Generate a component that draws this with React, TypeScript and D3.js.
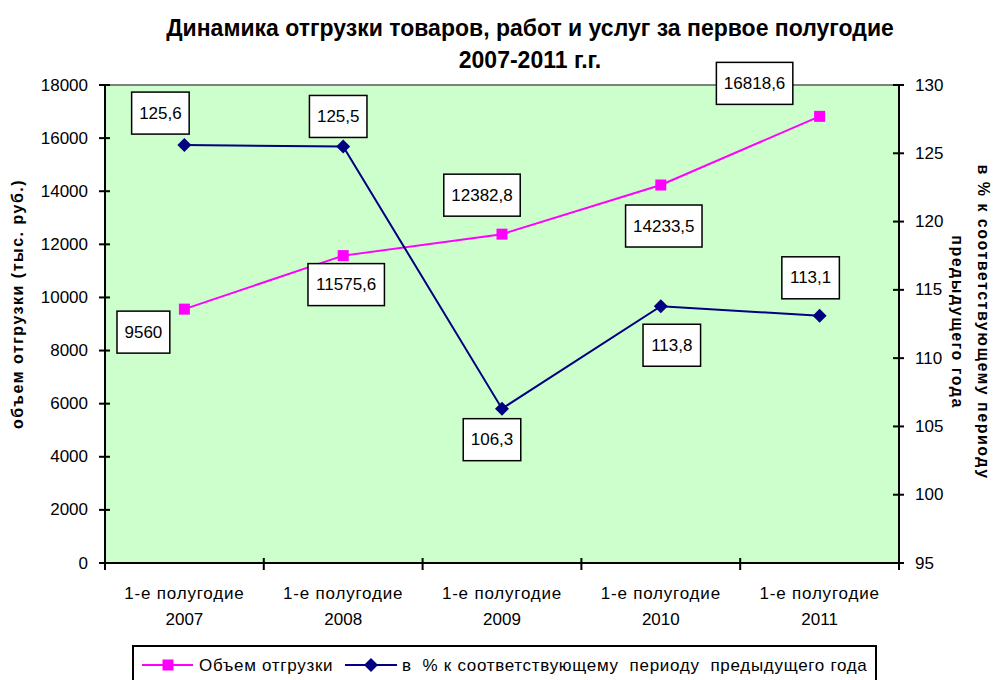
import React from "react";
import * as d3 from "d3";

const periods = ["2007", "2008", "2009", "2010", "2011"];
const volume = [9560, 11575.6, 12382.8, 14233.5, 16818.6];
const percent = [125.6, 125.5, 106.3, 113.8, 113.1];
const leftTicks = [0, 2000, 4000, 6000, 8000, 10000, 12000, 14000, 16000, 18000];
const rightTicks = [95, 100, 105, 110, 115, 120, 125, 130];

// label box offsets from the marker, as placed in the original chart
const volumeLabelShift = [[-41, 23], [3, 29], [-20, -39], [3, 41], [-65, -33]];
const percentLabelShift = [[-24, -32], [-5, -30], [-10, 31], [11, 39], [-9, -38]];

const W = 993;
const H = 680;
const plot = { left: 105, right: 899, top: 85, bottom: 563 };
const font = "'Liberation Sans', Arial, sans-serif";
const fs = 17;

const fmt = (v: number) => String(v).replace(".", ",");
// rough Arial width for digit strings
const textWidth = (s: string) =>
  s.split("").reduce((a, c) => a + (c === "," ? 0.278 : 0.556), 0) * fs;

function Label({ x, y, text }: { x: number; y: number; text: string }) {
  const w = textWidth(text) + 15;
  const h = 42;
  return (
    <g>
      <rect x={x - w / 2} y={y - h / 2} width={w} height={h} fill="#fff" stroke="#000" strokeWidth={1.5} />
      <text x={x} y={y} textAnchor="middle" dominantBaseline="central" fontSize={fs}>
        {text}
      </text>
    </g>
  );
}

export default function App() {
  const x = d3.scaleBand().domain(periods).range([plot.left, plot.right]);
  const yL = d3.scaleLinear().domain([0, 18000]).range([plot.bottom, plot.top]);
  const yR = d3.scaleLinear().domain([95, 130]).range([plot.bottom, plot.top]);
  const cx = (p: string) => (x(p) as number) + x.bandwidth() / 2;

  const volLine = d3.line<number>().x((_, i) => cx(periods[i])).y((d) => yL(d));
  const pctLine = d3.line<number>().x((_, i) => cx(periods[i])).y((d) => yR(d));

  const sq = 11;
  const diamond = (px: number, py: number, r = 7) =>
    `M${px},${py - r}L${px + r},${py}L${px},${py + r}L${px - r},${py}Z`;

  return (
    <svg width={W} height={H} style={{ position: "absolute", left: 0, top: 0, fontFamily: font }}>
      <rect width={W} height={H} fill="#fff" />
      <text x={530} y={36} textAnchor="middle" fontSize={23} fontWeight="bold">
        Динамика отгрузки товаров, работ  и услуг за первое полугодие
      </text>
      <text x={530} y={68} textAnchor="middle" fontSize={23} fontWeight="bold">
        2007-2011 г.г.
      </text>

      <rect x={plot.left} y={plot.top} width={plot.right - plot.left} height={plot.bottom - plot.top} fill="#ccffcc" />
      <line x1={plot.left} x2={plot.right} y1={plot.top} y2={plot.top} stroke="#808080" strokeWidth={2} />

      {/* left axis */}
      <line x1={plot.left} x2={plot.left} y1={plot.top} y2={plot.bottom} stroke="#000" strokeWidth={2} />
      {leftTicks.map((t) => (
        <g key={t}>
          <line x1={plot.left - 6} x2={plot.left + 5} y1={yL(t)} y2={yL(t)} stroke="#000" strokeWidth={2} />
          <text x={88} y={yL(t)} textAnchor="end" dominantBaseline="central" fontSize={fs}>
            {t}
          </text>
        </g>
      ))}
      <text
        transform={`translate(23,${(plot.top + plot.bottom) / 2 - 20}) rotate(-90)`}
        textAnchor="middle"
        fontSize={16}
        fontWeight="bold"
        letterSpacing={1.5}
      >
        объем отгрузки (тыс. руб.)
      </text>

      {/* right axis */}
      <line x1={plot.right} x2={plot.right} y1={plot.top} y2={plot.bottom} stroke="#000" strokeWidth={2} />
      {rightTicks.map((t) => (
        <g key={t}>
          <line x1={plot.right - 6} x2={plot.right + 5} y1={yR(t)} y2={yR(t)} stroke="#000" strokeWidth={2} />
          <text x={915} y={yR(t)} dominantBaseline="central" fontSize={fs}>
            {t}
          </text>
        </g>
      ))}
      <g
        transform={`translate(978,322) rotate(90)`}
        fontSize={16}
        fontWeight="bold"
        textAnchor="middle"
        letterSpacing={1.5}
      >
        <text x={0} y={0}>в % к соответствующему периоду</text>
        <text x={0} y={26}>предыдущего года</text>
      </g>

      {/* category axis */}
      <line x1={plot.left} x2={plot.right} y1={plot.bottom} y2={plot.bottom} stroke="#000" strokeWidth={2} />
      {periods.map((p, i) => (
        <g key={p}>
          <line x1={x(p) as number} x2={x(p) as number} y1={plot.bottom - 5} y2={plot.bottom + 7} stroke="#000" strokeWidth={2} />
          {i === periods.length - 1 && (
            <line x1={plot.right} x2={plot.right} y1={plot.bottom} y2={plot.bottom + 7} stroke="#000" strokeWidth={2} />
          )}
          <text x={cx(p)} y={599} textAnchor="middle" fontSize={17} letterSpacing={0.8}>
            1-е полугодие
          </text>
          <text x={cx(p)} y={625} textAnchor="middle" fontSize={17}>
            {p}
          </text>
        </g>
      ))}

      {/* series */}
      <path d={volLine(volume) || ""} fill="none" stroke="#ff00ff" strokeWidth={2} />
      <path d={pctLine(percent) || ""} fill="none" stroke="#000080" strokeWidth={2} />
      {volume.map((v, i) => (
        <rect key={"v" + i} x={cx(periods[i]) - sq / 2} y={yL(v) - sq / 2} width={sq} height={sq} fill="#ff00ff" />
      ))}
      {percent.map((v, i) => (
        <path key={"p" + i} d={diamond(cx(periods[i]), yR(v))} fill="#000080" />
      ))}

      {/* data labels */}
      {volume.map((v, i) => (
        <Label
          key={"lv" + i}
          x={cx(periods[i]) + volumeLabelShift[i][0]}
          y={yL(v) + volumeLabelShift[i][1]}
          text={fmt(v)}
        />
      ))}
      {percent.map((v, i) => (
        <Label
          key={"lp" + i}
          x={cx(periods[i]) + percentLabelShift[i][0]}
          y={yR(v) + percentLabelShift[i][1]}
          text={fmt(v)}
        />
      ))}

      {/* legend */}
      <rect x={133} y={646} width={743} height={50} fill="#fff" stroke="#000" strokeWidth={2} />
      <line x1={142} x2={193} y1={665} y2={665} stroke="#ff00ff" strokeWidth={2} />
      <rect x={168 - sq / 2} y={665 - sq / 2} width={sq} height={sq} fill="#ff00ff" />
      <text x={199} y={665} dominantBaseline="central" fontSize={fs} letterSpacing={0.7}>
        Объем отгрузки
      </text>
      <line x1={345} x2={397} y1={665} y2={665} stroke="#000080" strokeWidth={2} />
      <path d={diamond(371, 665)} fill="#000080" />
      <text x={402} y={665} dominantBaseline="central" fontSize={fs} xmlSpace="preserve" letterSpacing={0.7}>
        в  % к соответствующему  периоду  предыдущего года
      </text>
    </svg>
  );
}
